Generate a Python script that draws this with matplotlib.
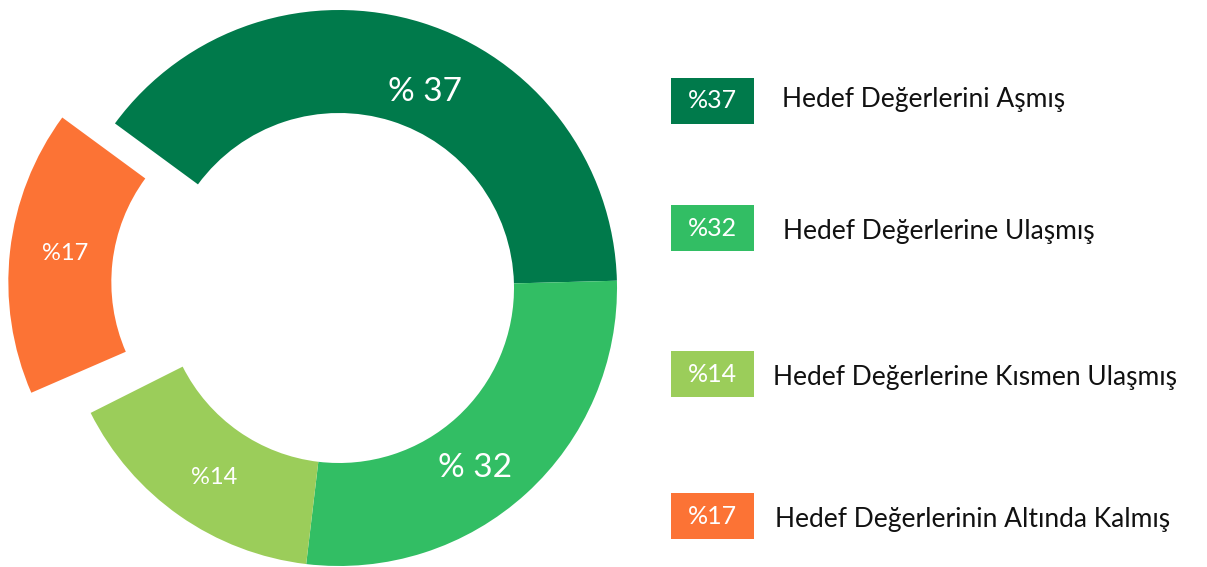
import matplotlib
matplotlib.use("Agg")
import matplotlib.pyplot as plt
from matplotlib.patches import Rectangle

plt.rcParams['font.family'] = ['Lato', 'DejaVu Sans']

# legend entries and printed percentages
categories = ["Hedef Değerlerini Aşmış",
              "Hedef Değerlerine Ulaşmış",
              "Hedef Değerlerine Kısmen Ulaşmış",
              "Hedef Değerlerinin Altında Kalmış"]
pct_labels = [37, 32, 14, 17]
colors = ["#007A4B", "#32BE64", "#9BCD5A", "#FC7335"]
# ring share of each slice as drawn in the picture (fraction of the circle)
shares = [0.395, 0.273, 0.157, 0.166]

W, H = 1207, 567
fig = plt.figure(figsize=(W / 100, H / 100), dpi=100)
ax = fig.add_axes([0, 0, 1, 1])

# pie in pixel units (y up); orange goes first so the small gap sits below it
order = [3, 0, 1, 2]
cx, cy, R = 339, H - 288, 278
ax.pie([shares[i] for i in order], colors=[colors[i] for i in order],
       startangle=143.7 + shares[3] * 360, counterclock=False, normalize=False,
       center=(cx, cy), radius=R, explode=[53, 0, 0, 0],
       wedgeprops=dict(width=103, linewidth=0))
ax.set_xlim(0, W)
ax.set_ylim(0, H)
ax.set_aspect('equal')
ax.axis('off')

# in-ring labels
ring_txt = [f"% {pct_labels[0]}", f"% {pct_labels[1]}", f"%{pct_labels[2]}", f"%{pct_labels[3]}"]
ring_pos = [(425, H - 92), (475, H - 468), (214, H - 478), (65, H - 253)]
ring_size = [24, 24, 17, 17]
for t, (x, y), s in zip(ring_txt, ring_pos, ring_size):
    ax.text(x, y, t, color="white", fontsize=s, ha="center", va="center")

# legend
box_top = [78, 205, 351, 493]
text_x = [782, 783, 773, 775]
text_y = [100, 232, 377, 519]
for i in range(4):
    ax.add_patch(Rectangle((671, H - box_top[i] - 46), 83, 46,
                           facecolor=colors[i], edgecolor="none"))
    ax.text(671 + 41.5, H - box_top[i] - 23, f"%{pct_labels[i]}", color="white",
            fontsize=18, ha="center", va="center")
    ax.text(text_x[i], H - text_y[i], categories[i], color="#111111",
            fontsize=19, ha="left", va="center")

fig.savefig("out.png", dpi=100)
